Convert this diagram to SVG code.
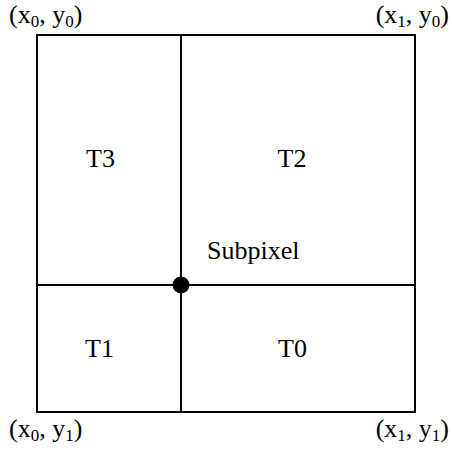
<svg xmlns="http://www.w3.org/2000/svg" width="452" height="451" viewBox="0 0 452 451">
<style>
text{font-family:"Liberation Serif","Times New Roman",serif;font-size:26px;fill:#000}
.sub{font-size:17px}
.ln{stroke:#000;stroke-width:2;fill:none}
</style>
<rect width="452" height="451" fill="#fff"/>
<g id="connectors">
<rect class="ln" x="37" y="35" width="378" height="377"/>
<line class="ln" x1="181" y1="35" x2="181" y2="412"/>
<line class="ln" x1="37" y1="285" x2="415" y2="285"/>
</g>
<g id="subpixel"><circle cx="181" cy="285" r="8.5" fill="#000"/><text x="207" y="259">Subpixel</text></g>
<g id="T3"><text x="100.5" y="167" text-anchor="middle">T3</text></g>
<g id="T2"><text x="292" y="167" text-anchor="middle">T2</text></g>
<g id="T1"><text x="99.5" y="357" text-anchor="middle">T1</text></g>
<g id="T0"><text x="292.5" y="357" text-anchor="middle">T0</text></g>
<g id="c00"><text x="9" y="23">(x<tspan class="sub" dy="4">0</tspan><tspan dy="-4">, y</tspan><tspan class="sub" dy="4">0</tspan><tspan dy="-4">)</tspan></text></g>
<g id="c10"><text x="449" y="23" text-anchor="end">(x<tspan class="sub" dy="4">1</tspan><tspan dy="-4">, y</tspan><tspan class="sub" dy="4">0</tspan><tspan dy="-4">)</tspan></text></g>
<g id="c01"><text x="9" y="437">(x<tspan class="sub" dy="4">0</tspan><tspan dy="-4">, y</tspan><tspan class="sub" dy="4">1</tspan><tspan dy="-4">)</tspan></text></g>
<g id="c11"><text x="449" y="437" text-anchor="end">(x<tspan class="sub" dy="4">1</tspan><tspan dy="-4">, y</tspan><tspan class="sub" dy="4">1</tspan><tspan dy="-4">)</tspan></text></g>
</svg>
